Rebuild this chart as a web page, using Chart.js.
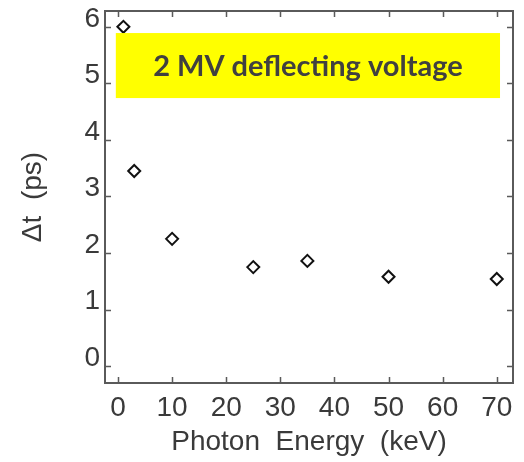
<!DOCTYPE html>
<html>
<head>
<meta charset="utf-8">
<script src="https://cdn.jsdelivr.net/npm/chart.js@4.4.1/dist/chart.umd.min.js"></script>
<style>
  html, body { margin: 0; padding: 0; background: #fff; }
  #wrap { width: 524px; height: 462px; }
</style>
</head>
<body>
<div id="wrap"><canvas id="grafica" width="524" height="462"></canvas></div>
<script>
// Datos
const energia = [1, 3, 10, 25, 35, 50, 70];          // keV
const deltaT = [6.0, 3.45, 2.25, 1.75, 1.86, 1.58, 1.54]; // ps
const ticksX = [0, 10, 20, 30, 40, 50, 60, 70];
const ticksY = [0, 1, 2, 3, 4, 5, 6];
const etiqueta = "2 MV deflecting voltage";

const colorEje = "#5a5a5a";
const colorTexto = "#3a3a3a";

// Marco del gráfico con marcas hacia dentro en los cuatro lados
const marcoPlugin = {
  id: "marco",
  afterDraw(chart) {
    const ctx = chart.ctx;
    const area = chart.chartArea;
    const sx = chart.scales.x;
    const sy = chart.scales.y;
    const largo = 6;

    ctx.save();
    ctx.strokeStyle = colorEje;
    ctx.lineWidth = 2;
    ctx.strokeRect(area.left, area.top, area.right - area.left, area.bottom - area.top);

    ctx.lineWidth = 1.5;
    ctx.beginPath();
    ticksX.forEach(v => {
      const px = Math.round(sx.getPixelForValue(v)) + 0.5;
      ctx.moveTo(px, area.bottom);
      ctx.lineTo(px, area.bottom - largo);
      ctx.moveTo(px, area.top);
      ctx.lineTo(px, area.top + largo);
    });
    ticksY.forEach(v => {
      const py = Math.round(sy.getPixelForValue(v)) + 0.5;
      ctx.moveTo(area.left, py);
      ctx.lineTo(area.left + largo, py);
      ctx.moveTo(area.right, py);
      ctx.lineTo(area.right - largo, py);
    });
    ctx.stroke();
    ctx.restore();
  }
};

// Recuadro amarillo con el texto
const etiquetaPlugin = {
  id: "etiqueta",
  afterDatasetsDraw(chart) {
    const ctx = chart.ctx;
    const sx = chart.scales.x;
    const sy = chart.scales.y;
    const x1 = sx.getPixelForValue(-0.4);
    const x2 = sx.getPixelForValue(70.6);
    const y1 = sy.getPixelForValue(5.89);
    const y2 = sy.getPixelForValue(4.74);

    ctx.save();
    ctx.fillStyle = "#ffff00";
    ctx.fillRect(x1, y1, x2 - x1, y2 - y1);
    ctx.fillStyle = "#404040";
    ctx.font = "bold 29px Lato";
    ctx.textAlign = "center";
    ctx.textBaseline = "middle";
    ctx.fillText(etiqueta, (x1 + x2) / 2, (y1 + y2) / 2 + 1);
    ctx.restore();
  }
};

function dibujarGrafica() {
  const ctx = document.getElementById("grafica").getContext("2d");

  new Chart(ctx, {
    type: "scatter",
    data: {
      datasets: [{
        data: energia.map((e, i) => ({ x: e, y: deltaT[i] })),
        pointStyle: "rectRot",
        pointRadius: 6,
        pointBorderWidth: 2,
        pointBorderColor: "#111",
        pointBackgroundColor: "#fff"
      }]
    },
    options: {
      responsive: false,
      animation: false,
      layout: { padding: { top: 11, right: 11, left: 0, bottom: 0 } },
      plugins: {
        legend: { display: false },
        tooltip: { enabled: false }
      },
      scales: {
        x: {
          type: "linear",
          min: -2.4,
          max: 73,
          afterFit: s => { s.height = 79; s.paddingLeft = 0; s.paddingRight = 0; },
          afterBuildTicks: s => { s.ticks = ticksX.map(v => ({ value: v })); },
          grid: { display: false, drawTicks: false },
          border: { display: false },
          ticks: {
            includeBounds: false,
            padding: 8,
            maxRotation: 0,
            color: colorTexto,
            font: { family: "Liberation Sans", size: 28 }
          },
          title: {
            display: true,
            text: "Photon  Energy  (keV)",
            color: colorTexto,
            padding: { top: 0, bottom: 3 },
            font: { family: "Liberation Sans", size: 28 }
          }
        },
        y: {
          min: -0.3,
          max: 6.28,
          afterFit: s => { s.width = 105; s.paddingTop = 0; s.paddingBottom = 0; },
          afterBuildTicks: s => { s.ticks = ticksY.map(v => ({ value: v })); },
          grid: { display: false, drawTicks: false },
          border: { display: false },
          ticks: {
            includeBounds: false,
            padding: 5,
            labelOffset: -8,
            color: colorTexto,
            font: { family: "Liberation Sans", size: 28 }
          },
          title: {
            display: true,
            text: "Δt  (ps)",
            color: colorTexto,
            padding: { top: 16, bottom: 0 },
            font: { family: "Liberation Sans", size: 28 }
          }
        }
      }
    },
    plugins: [marcoPlugin, etiquetaPlugin]
  });
}

dibujarGrafica();
</script>
</body>
</html>
